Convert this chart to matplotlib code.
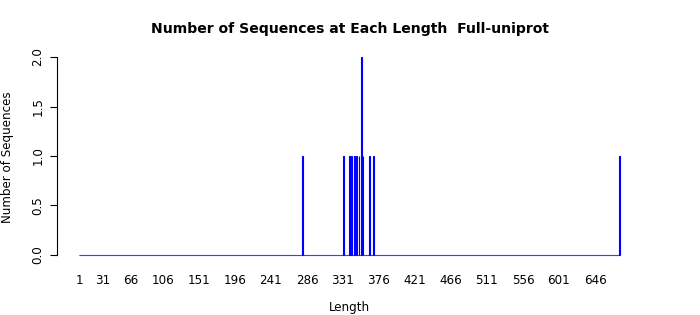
import numpy as np
import matplotlib
matplotlib.use("Agg")
import matplotlib.pyplot as plt

# sequence lengths observed and how many sequences have each length
seq_lengths = [280, 332, 339, 342, 345, 348, 351, 354, 356, 364, 369, 677]
seq_counts = [1, 1, 1, 1, 1, 1, 1, 2, 1, 1, 1, 1]
max_len = 677
tick_lengths = [1, 31, 66, 106, 151, 196, 241, 286, 331, 376, 421, 466, 511, 556, 601, 646]
y_ticks = [0.0, 0.5, 1.0, 1.5, 2.0]

all_lengths = np.arange(1, max_len + 1)
heights = np.zeros(max_len)
for L, c in zip(seq_lengths, seq_counts):
    heights[L - 1] = c

fig = plt.figure(figsize=(7, 3.15), dpi=100)
W, H = 700, 315
ax = fig.add_axes([57 / W, 1 - 262.9 / H, (641.6 - 57) / W, (262.9 - 49.1) / H])

ax.bar(all_lengths, heights, width=0.8, color="blue", edgecolor="blue",
       linewidth=0.8, align="center")

ax.set_xlim(-26.5, 704.25)
ax.set_ylim(-0.08, 2.08)

for s in ["top", "right", "bottom"]:
    ax.spines[s].set_visible(False)
ax.spines["left"].set_bounds(0, 2)
ax.spines["left"].set_linewidth(0.8)

ax.set_yticks(y_ticks)
ax.set_yticklabels([f"{v:.1f}" for v in y_ticks], rotation=90, va="center")
ax.tick_params(axis="y", length=5, width=0.8, pad=4, labelsize=8.6)

ax.set_xticks(tick_lengths)
ax.set_xticklabels([str(t) for t in tick_lengths])
ax.tick_params(axis="x", length=0, pad=8, labelsize=8.6)

fig.text(350 / W, 1 - 29 / H, "Number of Sequences at Each Length  Full-uniprot",
         ha="center", va="center", fontsize=10.1, fontweight="bold")
fig.text(349 / W, 1 - 308 / H, "Length", ha="center", va="center", fontsize=8.6)
fig.text(8 / W, 1 - 157 / H, "Number of Sequences", ha="center", va="center",
         rotation=90, fontsize=8.6)

fig.savefig("out.png", dpi=100)
